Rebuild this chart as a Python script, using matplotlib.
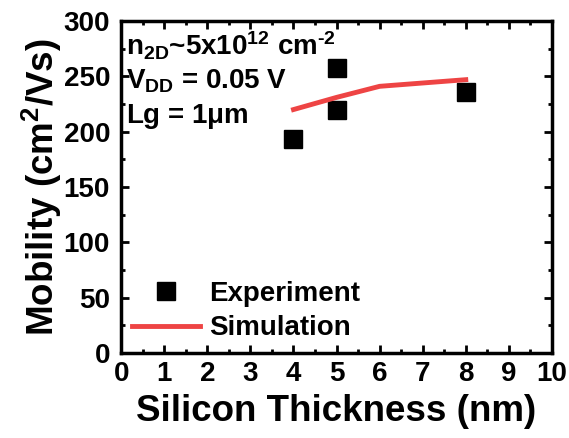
import numpy as np
import matplotlib.pyplot as plt
from matplotlib.ticker import MultipleLocator

plt.rcParams['font.family'] = 'Liberation Sans'
plt.rcParams['font.weight'] = 'bold'
plt.rcParams['mathtext.fontset'] = 'custom'
plt.rcParams['mathtext.rm'] = 'Liberation Sans:bold'
plt.rcParams['mathtext.it'] = 'Liberation Sans:bold'
plt.rcParams['mathtext.bf'] = 'Liberation Sans:bold'

# measured mobility
exp_thick = [4, 5, 5, 8]
exp_mob = [193, 258, 220, 236]

# simulated mobility
sim_thick = [4, 5, 6, 8]
sim_mob = [220, 231, 241, 247]

fig = plt.figure(figsize=(5.69, 4.38), dpi=100)
ax = fig.add_axes([0.213, 0.194, 0.757, 0.758])

ax.plot(exp_thick, exp_mob, 's', color='black', markersize=13, linestyle='none', label='Experiment')
ax.plot(sim_thick, sim_mob, '-', color='#ee4444', linewidth=3.5, label='Simulation')

ax.set_xlim(0, 10)
ax.set_ylim(0, 300)
ax.xaxis.set_major_locator(MultipleLocator(1))
ax.xaxis.set_minor_locator(MultipleLocator(0.5))
ax.yaxis.set_major_locator(MultipleLocator(50))
ax.yaxis.set_minor_locator(MultipleLocator(25))
ax.tick_params(which='both', direction='in', top=True, right=True, width=2)
ax.tick_params(which='major', length=6, labelsize=20)
ax.tick_params(axis='x', which='major', pad=6)
ax.tick_params(axis='y', which='major', pad=8)
ax.tick_params(which='minor', length=3)
for s in ax.spines.values():
    s.set_linewidth(2.5)

ax.set_xlabel('Silicon Thickness (nm)', fontsize=26.5, fontweight='bold', labelpad=5)
ax.set_ylabel('Mobility (cm$^2$/Vs)', fontsize=26.5, fontweight='bold', labelpad=0)

ax.text(0.012, 0.975, 'n$_{2D}$~5x10$^{12}$ cm$^{\\text{-}2}$\nV$_{DD}$ = 0.05 V\nLg = 1$\\mu$m',
        transform=ax.transAxes, fontsize=20, fontweight='bold', va='top', ha='left',
        linespacing=1.3)

ax.legend(loc='lower left', bbox_to_anchor=(0.026, 0.035), frameon=False, fontsize=20,
          handlelength=2.45, handletextpad=0.3, labelspacing=0.32, borderaxespad=0, borderpad=0)

fig.savefig('out.png', dpi=100)
